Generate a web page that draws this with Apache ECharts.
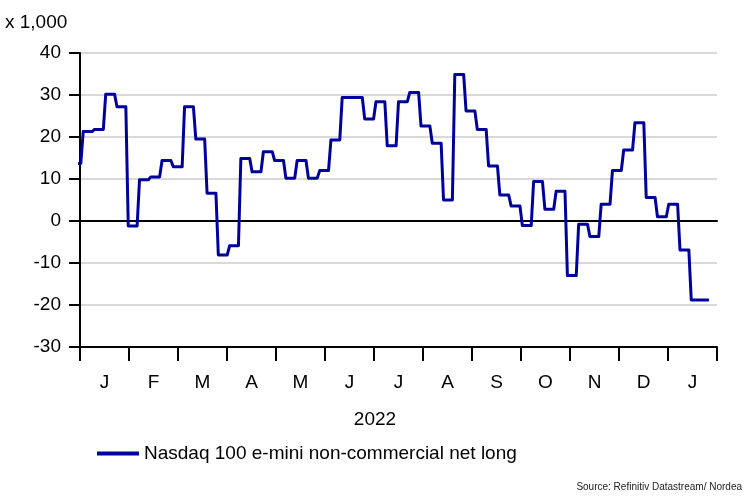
<!DOCTYPE html>
<html>
<head>
<meta charset="utf-8">
<script src="https://cdn.jsdelivr.net/npm/echarts@6/dist/echarts.min.js"></script>
<style>html,body{margin:0;padding:0;background:#fff}#c{width:750px;height:500px}</style>
</head>
<body>
<div id="c"></div>
<script>
var monthLabels = ['J','F','M','A','M','J','J','A','S','O','N','D','J'];
var yearLabel = '2022';
var seriesName = 'Nasdaq 100 e-mini non-commercial net long';
var dates = ['2021-12-27','2022-01-03','2022-01-10','2022-01-17','2022-01-24','2022-01-31',
 '2022-02-07','2022-02-14','2022-02-21','2022-02-28','2022-03-07','2022-03-14','2022-03-21','2022-03-28',
 '2022-04-04','2022-04-11','2022-04-18','2022-04-25','2022-05-02','2022-05-09','2022-05-16','2022-05-23','2022-05-30',
 '2022-06-06','2022-06-13','2022-06-20','2022-06-27','2022-07-04','2022-07-11','2022-07-18','2022-07-25',
 '2022-08-01','2022-08-08','2022-08-15','2022-08-22','2022-08-29','2022-09-05','2022-09-12','2022-09-19','2022-09-26',
 '2022-10-03','2022-10-10','2022-10-17','2022-10-24','2022-10-31','2022-11-07','2022-11-14','2022-11-21','2022-11-28',
 '2022-12-05','2022-12-12','2022-12-19','2022-12-26','2023-01-02','2023-01-09','2023-01-16','2023-01-23','2023-01-27'];
var netLong = [13.7,21.3,21.8,30.2,27.2,-1.2,
 9.8,10.5,14.4,12.9,27.2,19.5,6.6,-8.1,
 -5.9,14.9,11.7,16.5,14.4,10.2,14.4,10.2,12.0,
 19.3,29.4,29.4,24.3,28.4,17.9,28.4,30.6,
 22.6,18.5,5.0,34.9,26.2,21.8,13.1,6.2,3.6,
 -1.1,9.4,2.8,7.1,-13.0,-0.8,-3.7,4.0,12.0,
 16.9,23.4,5.6,1.0,4.0,-6.9,-18.8,-18.8,-18.8];
var yTicks = {min: -30, max: 40, interval: 10};
var xRange = {min: '2022-01-01', max: '2023-02-01'};

var FONT = "'Liberation Sans',Arial,sans-serif";
var DAY = 86400000;
// each weekly value is held until the day before the next report
var pts = [];
dates.forEach(function (d, i) {
  var t = Date.parse(d + 'T00:00:00Z');
  pts.push([t, netLong[i]]);
  if (i < dates.length - 1) {
    var tNext = Date.parse(dates[i + 1] + 'T00:00:00Z');
    if (tNext - t > 2 * DAY) pts.push([tNext - 1.5 * DAY, netLong[i]]);
  }
});
var chart = echarts.init(document.getElementById('c'), null, {renderer: 'canvas'});
chart.setOption({
  animation: false,
  backgroundColor: '#fff',
  textStyle: {fontFamily: FONT, color: '#000'},
  grid: {left: 80, right: 33, top: 53, bottom: 153, containLabel: false},
  xAxis: [{
    type: 'time',
    min: Date.parse(xRange.min + 'T00:00:00Z'), max: Date.parse(xRange.max + 'T00:00:00Z'),
    axisLine: {show: true, onZero: true, lineStyle: {color: '#000', width: 2}},
    axisTick: {show: false}, axisLabel: {show: false}, splitLine: {show: false}
  }, {
    type: 'category',
    position: 'bottom',
    data: monthLabels,
    boundaryGap: true,
    axisLine: {show: true, onZero: false, lineStyle: {color: '#000', width: 2}},
    axisTick: {show: true, length: 14, lineStyle: {color: '#000', width: 2}},
    axisLabel: {margin: 26, fontSize: 19, color: '#000', fontFamily: FONT},
    splitLine: {show: false}
  }],
  yAxis: {
    type: 'value',
    min: yTicks.min, max: yTicks.max, interval: yTicks.interval,
    axisLine: {show: true, onZero: false, lineStyle: {color: '#000', width: 2}},
    axisTick: {show: true, length: 11, lineStyle: {color: '#000', width: 2}},
    axisLabel: {margin: 19, fontSize: 19, color: '#000', fontFamily: FONT},
    splitLine: {show: true, lineStyle: {color: '#d9d9d9', width: 2}}
  },
  legend: {
    data: [seriesName],
    left: 92, top: 439,
    icon: 'rect', itemWidth: 42, itemHeight: 4, itemGap: 8,
    textStyle: {fontSize: 19, color: '#000', fontFamily: FONT}
  },
  graphic: [
    {type: 'text', left: 5, top: 13, style: {text: 'x 1,000', fill: '#000', font: '19px ' + FONT}},
    {type: 'text', x: 375, y: 420, style: {text: yearLabel, fill: '#000', font: '19px ' + FONT, textAlign: 'center', textVerticalAlign: 'middle'}},
    {type: 'text', x: 742, y: 487, style: {text: 'Source: Refinitiv Datastream/ Nordea', fill: '#222', font: '10px ' + FONT, textAlign: 'right', textVerticalAlign: 'middle'}}
  ],
  series: [{
    name: seriesName,
    type: 'line',
    xAxisIndex: 0,
    data: pts,
    showSymbol: false,
    clip: true,
    color: '#00009f',
    lineStyle: {color: '#00009f', width: 3, join: 'round'}
  }]
});
</script>
</body>
</html>
